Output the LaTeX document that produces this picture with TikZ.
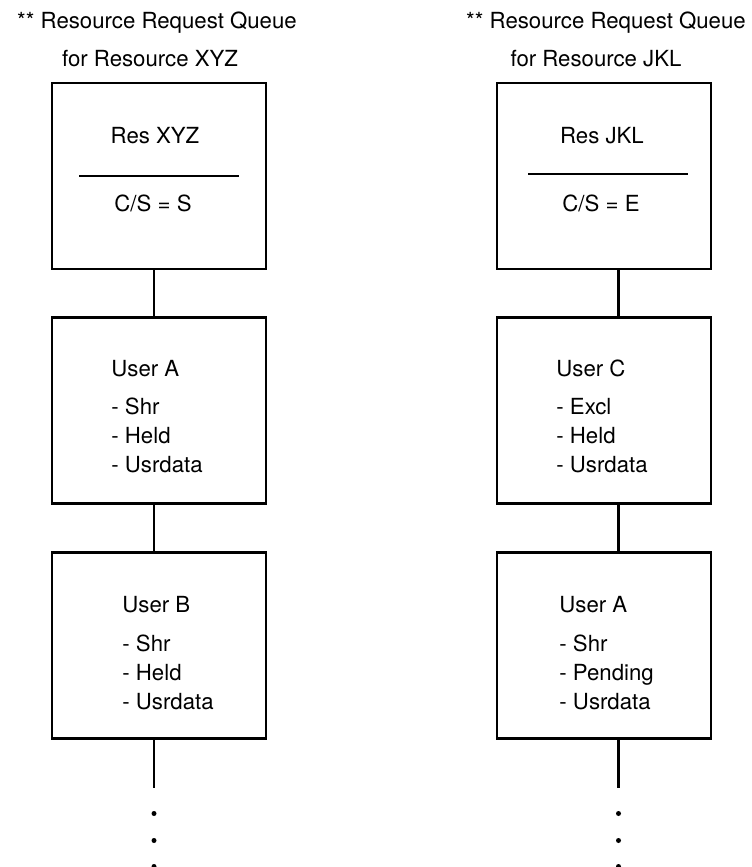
\documentclass[tikz,border=0pt]{standalone}
\usepackage{fontspec}
\setmainfont{TeX Gyre Heros}
\usetikzlibrary{positioning}
\newcommand{\qfont}{\fontsize{11.1}{14.5}\selectfont}

\begin{document}
\begin{tikzpicture}[
    x=0.5pt, y=-0.5pt,
    node distance=23pt,
    qbox/.style={rectangle, draw, line width=1.3pt, minimum width=107pt, minimum height=93pt, inner sep=0pt},
    lbl/.style={font=\qfont, inner sep=0pt, anchor=base},
    entry/.style={font=\qfont, inner sep=0pt, align=left, anchor=north west},
    link/.style={line width=1.3pt}
]
\useasboundingbox (0,0) rectangle (751,867);

% queue for XYZ
\node[lbl] (qxyz1) at (157,28) {** Resource Request Queue};
\node[lbl] (qxyz2) at (150,66) {for Resource XYZ};
\node[qbox] (resxyz) at (159,176) {};
\node[qbox, below=of resxyz] (usra) {};
\node[qbox, below=of usra] (usrb) {};

\node[lbl] (resxyzname) at ([shift={(-4,-33)}]resxyz.center) {Res XYZ};
\draw[link] ([shift={(-80,0)}]resxyz.center) -- ([shift={(80,0)}]resxyz.center);
\node[lbl] (resxyzcs) at ([shift={(-6,35)}]resxyz.center) {C/S = S};
\node[entry] (usratxt) at ([shift={(-48,-51)}]usra.center) {User A\\[4.5pt]- Shr\\- Held\\- Usrdata};
\node[entry] (usrbtxt) at ([shift={(-37,-49)}]usrb.center) {User B\\[5pt]- Shr\\- Held\\- Usrdata};

\draw[link] ([xshift=-2.5pt]resxyz.south) -- ([xshift=-2.5pt]usra.north);
\draw[link] ([xshift=-2.5pt]usra.south) -- ([xshift=-2.5pt]usrb.north);
\coordinate (tailxyz) at ([shift={(-5,48)}]usrb.south);
\draw[link] ([xshift=-2.5pt]usrb.south) -- (tailxyz);
\foreach \d in {26,53,79}
    \fill ([shift={(0,\d)}]tailxyz) circle (1.25pt);

% queue for JKL
\node[lbl] (qjkl1) at (606,28) {** Resource Request Queue};
\node[lbl] (qjkl2) at (596,66) {for Resource JKL};
\node[qbox] (resjkl) at (604,176) {};
\node[qbox, below=of resjkl] (usrc) {};
\node[qbox, below=of usrc] (usra2) {};

\node[lbl] (resjklname) at ([shift={(-2,-33)}]resjkl.center) {Res JKL};
\draw[link] ([shift={(-76,-2)}]resjkl.center) -- ([shift={(84,-2)}]resjkl.center);
\node[lbl] (resjklcs) at ([shift={(-3,35)}]resjkl.center) {C/S = E};
\node[entry] (usrctxt) at ([shift={(-48,-51)}]usrc.center) {User C\\[4.5pt]- Excl\\- Held\\- Usrdata};
\node[entry] (usra2txt) at ([shift={(-45,-49)}]usra2.center) {User A\\[5pt]- Shr\\- Pending\\- Usrdata};

\draw[link] ([xshift=7.25pt]resjkl.south) -- ([xshift=7.25pt]usrc.north);
\draw[link] ([xshift=7.25pt]usrc.south) -- ([xshift=7.25pt]usra2.north);
\coordinate (tailjkl) at ([shift={(14.5,48)}]usra2.south);
\draw[link] ([xshift=7.25pt]usra2.south) -- (tailjkl);
\foreach \d in {26,53,79}
    \fill ([shift={(0,\d)}]tailjkl) circle (1.25pt);
\end{tikzpicture}
\end{document}
